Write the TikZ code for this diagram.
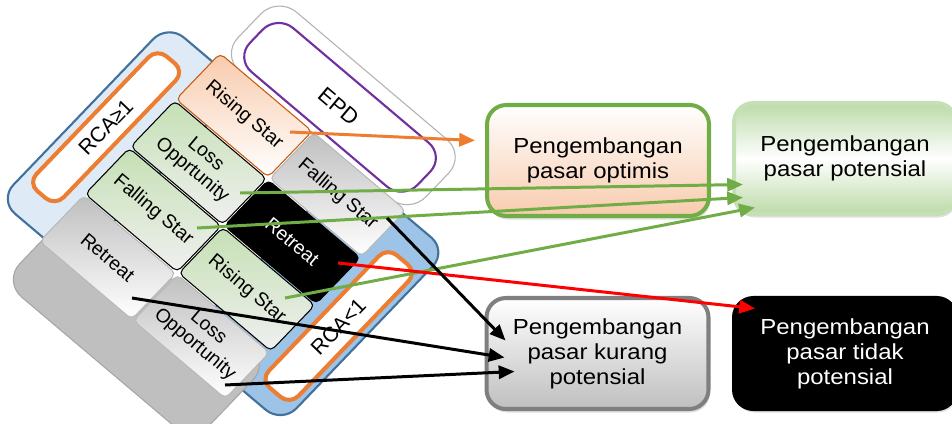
\documentclass[tikz,border=0pt]{standalone}
\usepackage{fontspec}
\setmainfont{Liberation Sans}
\newfontfamily\widefont[FakeStretch=1.1]{Liberation Sans}
\usetikzlibrary{arrows.meta,shadows}

\definecolor{peach}{HTML}{F8CBAD}
\definecolor{leaf}{HTML}{70AD47}
\definecolor{leaflight}{HTML}{C5E0B4}
\definecolor{tangerine}{HTML}{ED7D31}
\definecolor{rust}{HTML}{C55A11}
\definecolor{steel}{HTML}{41719C}
\definecolor{skypale}{HTML}{DEEBF7}
\definecolor{skymid}{HTML}{9DC3E6}
\definecolor{plum}{HTML}{7030A0}
\definecolor{silver}{HTML}{BFBFBF}
\definecolor{ash}{HTML}{7F7F7F}

\begin{document}
\begin{tikzpicture}[x=0.02cm,y=0.02cm,
    tile/.style={rounded corners=3pt, line width=0.6pt},
    risetile/.style={tile, draw=rust, bottom color=white, top color=peach},
    greentile/.style={tile, draw=black, bottom color=gray!12, top color=leaflight},
    darktile/.style={tile, draw=black, fill=black},
    greytile/.style={tile, draw=gray!55, bottom color=white, top color=silver},
    tilelabel/.style={rotate=-40, align=center, font=\fontsize{11}{12}\selectfont},
    rcalabel/.style={rotate=46, font=\fontsize{12}{14}\selectfont},
    outcome/.style={rounded corners=11pt, minimum width=4.44cm, minimum height=2.22cm,
      line width=2.3pt, align=center, inner sep=0pt,
      font=\widefont\fontsize{12.4}{14.2}\selectfont,
      drop shadow={shadow xshift=0.8pt, shadow yshift=-2pt, opacity=0.25}},
    arr/.style={line width=1.7pt, -{Triangle[length=9pt,width=7.5pt]}}]
  \useasboundingbox (0,0) rectangle (952,-423);

  % tilted quadrant matrix
  \begin{scope}[cm={0.78,-0.66,-0.71,-0.74,(220,-52)}]
    \draw[steel, line width=1.2pt, fill=skymid, rounded corners=12pt] (170,5) rectangle (296,238);
    \draw[tangerine, line width=2.3pt, fill=white, rounded corners=7pt] (251,40) rectangle (289,219);
    \draw[steel, line width=1.2pt, fill=skypale, rounded corners=12pt] (-56,12) rectangle (40,250);
    \draw[tangerine, line width=2.3pt, fill=white, rounded corners=7pt] (-47,37) rectangle (-12,219);
    \draw[gray!60, line width=0.6pt, fill=white, rounded corners=14pt] (3,-78) rectangle (244,2);
    \draw[plum, line width=1.2pt, rounded corners=12pt] (15,-64) rectangle (230,-5);
    \draw[gray!70, line width=0.6pt, fill=silver, rounded corners=14pt] (2,200) rectangle (246,308);

    \foreach \ta/\tb/\sty/\tc/\nm/\txt in {
        0/0/risetile/black/rsOrange/Rising Star,
        120/0/greytile/black/fsGrey/Falling Star,
        0/64/greentile/black/loGreen/{Loss\\Opprtunity},
        120/64/darktile/white/rtDark/Retreat,
        0/128/greentile/black/fsGreen/Falling Star,
        120/128/greentile/black/rsGreen/Rising Star,
        0/192/greytile/black/rtGrey/Retreat,
        120/192/greytile/black/loGrey/{Loss\\Opportunity}}
    {
      \draw[\sty] (\ta+1,\tb+1) rectangle (\ta+119,\tb+63);
      \node[tilelabel, text=\tc] (\nm) at (\ta+60,\tb+32) {\txt};
    }

    \node[rcalabel] (rcaHigh) at (-30,128) {RCA≥1};
    \node[rcalabel] (rcaLow) at (270,130) {RCA<1};
    \node[rotate=-40, font=\fontsize{12.5}{14}\selectfont] (epd) at (121,-34) {EPD};
  \end{scope}

  % outcome boxes
  \node[outcome, draw=leaf, bottom color=peach, top color=white] (optimis) at (598,-160.5) {Pengembangan\\pasar optimis};
  \node[outcome, draw=leaflight, shading angle=50, top color=leaflight!90!leaf, bottom color=leaflight!90!leaf, middle color=white] (potensial) at (845,-158.5) {Pengembangan\\pasar potensial};
  \node[outcome, draw=ash, bottom color=silver, top color=white] (kurang) at (597.5,-353.5) {Pengembangan\\pasar kurang\\potensial};
  \node[outcome, draw=black, fill=black, text=white] (tidak) at (845,-353.5) {Pengembangan\\pasar tidak\\potensial};

  % arrow origins inside the tiles
  \coordinate (fromRS) at (290,-132);
  \coordinate (fromLO) at (240,-193);
  \coordinate (fromFS) at (197,-228);
  \coordinate (fromRSg) at (285,-298);
  \coordinate (fromRT) at (338,-263);
  \coordinate (fromFSx) at (387,-218);
  \coordinate (fromRTx) at (132,-298);
  \coordinate (fromLOx) at (225,-385);

  \draw[arr, tangerine] (fromRS) -- ([shift={(-10,20)}]optimis.west);
  \draw[arr, leaf] (fromLO) -- ([shift={(11,-26)}]potensial.west);
  \draw[arr, leaf] (fromFS) -- ([shift={(11,-39)}]potensial.west);
  \draw[arr, leaf] (fromRSg) -- ([shift={(23,-49)}]potensial.west);
  \draw[arr, red] (fromRT) -- ([shift={(23,45)}]tidak.west);
  \draw[arr, black] (fromFSx) -- ([shift={(21,13)}]kurang.west);
  \draw[arr, black] (fromRTx) -- ([shift={(20,-4)}]kurang.west);
  \draw[arr, black] (fromLOx) -- ([shift={(30,-18)}]kurang.west);
\end{tikzpicture}
\end{document}
